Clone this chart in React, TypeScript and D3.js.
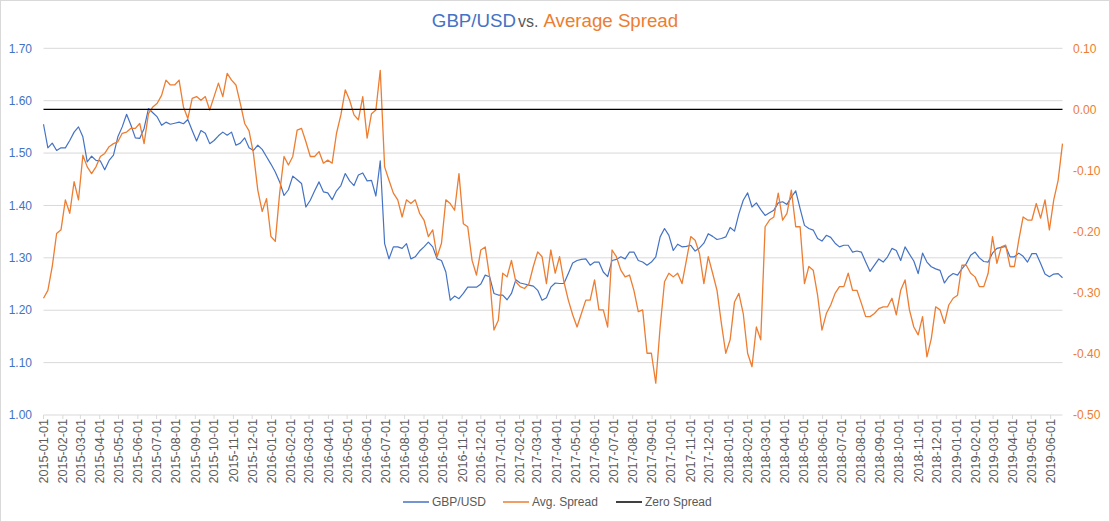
import React from "react";
import * as d3 from "d3";

// ---- data (weekly samples) ----
const startDate = "2015-01-01";
const stepDays = 7;

const gbpUsd = [
  1.555, 1.510, 1.519, 1.505, 1.510, 1.510, 1.524, 1.540, 1.550, 1.531, 1.483, 1.494, 1.486, 1.485, 1.468, 1.486, 1.496, 1.531, 1.550, 1.574, 1.553, 1.529, 1.528, 1.547, 1.585, 1.577, 1.569, 1.553, 1.559, 1.555, 1.557, 1.559, 1.556, 1.564, 1.543, 1.523, 1.543, 1.538, 1.518, 1.524, 1.533, 1.540, 1.534, 1.540, 1.515, 1.519, 1.529,
  1.510, 1.505, 1.515, 1.507, 1.493, 1.479, 1.464, 1.445, 1.419, 1.430, 1.456, 1.449, 1.442, 1.397, 1.410, 1.428, 1.445, 1.426, 1.424, 1.411, 1.428, 1.438, 1.461, 1.447, 1.438, 1.458, 1.462, 1.447, 1.448, 1.418, 1.485, 1.327, 1.298, 1.321, 1.321, 1.318, 1.327, 1.298, 1.302, 1.313, 1.321, 1.330, 1.321, 1.298, 1.295, 1.273, 1.219,
  1.227, 1.222, 1.232, 1.244, 1.244, 1.244, 1.250, 1.267, 1.264, 1.232, 1.229, 1.229, 1.220, 1.232, 1.258, 1.252, 1.250, 1.248, 1.246, 1.238, 1.219, 1.224, 1.244, 1.252, 1.251, 1.251, 1.270, 1.290, 1.295, 1.297, 1.298, 1.286, 1.292, 1.292, 1.273, 1.264, 1.295, 1.297, 1.302, 1.298, 1.311, 1.311, 1.295, 1.292, 1.286, 1.292, 1.302,
  1.340, 1.356, 1.343, 1.314, 1.326, 1.321, 1.322, 1.324, 1.313, 1.319, 1.328, 1.346, 1.341, 1.335, 1.337, 1.340, 1.358, 1.351, 1.384, 1.410, 1.424, 1.397, 1.405, 1.392, 1.381, 1.386, 1.391, 1.405, 1.407, 1.402, 1.416, 1.428, 1.394, 1.362, 1.356, 1.353, 1.337, 1.332, 1.343, 1.339, 1.328, 1.321, 1.324, 1.324, 1.311, 1.313, 1.311,
  1.292, 1.274, 1.286, 1.298, 1.292, 1.302, 1.318, 1.314, 1.295, 1.321, 1.307, 1.294, 1.270, 1.309, 1.292, 1.283, 1.279, 1.276, 1.252, 1.264, 1.270, 1.267, 1.279, 1.289, 1.305, 1.311, 1.300, 1.293, 1.292, 1.309, 1.318, 1.320, 1.322, 1.302, 1.302, 1.309, 1.303, 1.292, 1.308, 1.308, 1.289, 1.269, 1.264, 1.269, 1.270, 1.262,
];

const avgSpread = [
  -0.309, -0.296, -0.257, -0.203, -0.197, -0.148, -0.170, -0.118, -0.148, -0.075, -0.094, -0.105, -0.094, -0.077, -0.072, -0.061, -0.056, -0.053, -0.039, -0.037, -0.031, -0.031, -0.023, -0.056, -0.007, 0.004, 0.010, 0.023, 0.048, 0.040, 0.040, 0.048, 0.004, -0.015, 0.018, 0.021, 0.015, 0.021, -0.001, 0.021, 0.043, 0.021, 0.059, 0.048, 0.040, 0.010, -0.023,
  -0.035, -0.072, -0.132, -0.167, -0.146, -0.208, -0.216, -0.137, -0.077, -0.091, -0.077, -0.034, -0.031, -0.053, -0.077, -0.077, -0.069, -0.088, -0.083, -0.088, -0.039, -0.009, 0.032, 0.015, -0.009, -0.017, 0.021, -0.047, -0.007, -0.001, 0.064, -0.094, -0.116, -0.137, -0.148, -0.176, -0.148, -0.154, -0.148, -0.170, -0.181, -0.208, -0.197, -0.241, -0.219, -0.148, -0.154,
  -0.165, -0.105, -0.187, -0.192, -0.247, -0.271, -0.230, -0.225, -0.274, -0.361, -0.345, -0.268, -0.274, -0.247, -0.282, -0.290, -0.293, -0.285, -0.257, -0.233, -0.241, -0.285, -0.230, -0.268, -0.241, -0.282, -0.312, -0.336, -0.356, -0.334, -0.312, -0.312, -0.279, -0.328, -0.328, -0.356, -0.230, -0.241, -0.263, -0.274, -0.271, -0.296, -0.331, -0.328, -0.399, -0.399, -0.448,
  -0.356, -0.282, -0.268, -0.274, -0.268, -0.285, -0.247, -0.208, -0.214, -0.236, -0.285, -0.241, -0.268, -0.296, -0.350, -0.399, -0.377, -0.315, -0.301, -0.334, -0.399, -0.421, -0.356, -0.377, -0.192, -0.181, -0.176, -0.137, -0.181, -0.170, -0.132, -0.192, -0.192, -0.285, -0.257, -0.263, -0.304, -0.361, -0.334, -0.320, -0.301, -0.290, -0.290, -0.268, -0.296, -0.296, -0.317,
  -0.339, -0.339, -0.334, -0.326, -0.323, -0.323, -0.309, -0.336, -0.296, -0.279, -0.328, -0.356, -0.369, -0.339, -0.405, -0.375, -0.323, -0.328, -0.350, -0.320, -0.309, -0.304, -0.255, -0.255, -0.268, -0.274, -0.290, -0.290, -0.268, -0.208, -0.252, -0.225, -0.222, -0.257, -0.257, -0.214, -0.176, -0.181, -0.181, -0.154, -0.178, -0.148, -0.197, -0.148, -0.116, -0.056,
];

const zeroSpread = 0;
const leftTicks = [1.0, 1.1, 1.2, 1.3, 1.4, 1.5, 1.6, 1.7];
const rightTicks = [-0.5, -0.4, -0.3, -0.2, -0.1, 0.0, 0.1];
const firstMonth = "2015-01-01";
const lastMonth = "2019-06-01";
const seriesNames = ["GBP/USD", "Avg. Spread", "Zero Spread"];

const W = 1110;
const H = 522;
const BLUE = "#4472C4";
const ORANGE = "#ED7D31";
const GREY = "#595959";
const GRID = "#D9D9D9";
const FONT = "'Liberation Sans', Arial, sans-serif";

export default function App() {
  const parse = d3.timeParse("%Y-%m-%d");
  const start = parse(startDate) as Date;
  const dates = gbpUsd.map((_, i) => d3.timeDay.offset(start, i * stepDays));
  const last = dates[dates.length - 1];

  const left = 43.5;
  const right = 1062.5;
  const top = 48.3;
  const bottom = 415;

  const x = d3.scaleTime().domain([start, last]).range([left, right]);
  const yL = d3.scaleLinear().domain([1.0, 1.7]).range([bottom, top]);
  const yR = d3.scaleLinear().domain([-0.5, 0.1]).range([bottom, top]);

  const lineL = d3
    .line<number>()
    .x((_, i) => x(dates[i]))
    .y((d) => yL(d));
  const lineR = d3
    .line<number>()
    .x((_, i) => x(dates[i]))
    .y((d) => yR(d));

  const months = d3.timeMonth.range(
    parse(firstMonth) as Date,
    d3.timeDay.offset(parse(lastMonth) as Date, 1)
  );
  const fmt = d3.timeFormat("%Y-%m-%d");

  const legendItems = [
    { name: seriesNames[0], color: BLUE, x0: 403 },
    { name: seriesNames[1], color: ORANGE, x0: 503 },
    { name: seriesNames[2], color: "#000", x0: 616 },
  ];

  return (
    <svg
      width={W}
      height={H}
      style={{ position: "absolute", left: 0, top: 0, background: "#fff" }}
      fontFamily={FONT}
    >
      <rect x={0.5} y={0.5} width={W - 1} height={H - 1} fill="#fff" stroke={GRID} />
      <text x={555} y={27} textAnchor="middle" fontSize={18.7}>
        <tspan fill={BLUE}>GBP/USD</tspan>
        <tspan fill={GREY} fontSize={16} dx={2}>vs.</tspan>
        <tspan fill={ORANGE} dx={5}>Average Spread</tspan>
      </text>

      {leftTicks.map((t) => (
        <g key={"g" + t}>
          <line x1={left} x2={right} y1={yL(t)} y2={yL(t)} stroke={GRID} strokeWidth={1} />
          <text x={32} y={yL(t)} dy="0.35em" textAnchor="end" fontSize={12} fill={BLUE}>
            {t.toFixed(2)}
          </text>
        </g>
      ))}
      {rightTicks.map((t) => (
        <text key={"r" + t} x={1073} y={yR(t)} dy="0.35em" textAnchor="start" fontSize={12} fill={ORANGE}>
          {t.toFixed(2)}
        </text>
      ))}

      {months.map((m) => (
        <g key={m.toISOString()}>
          <line x1={x(m)} x2={x(m)} y1={bottom} y2={bottom + 4} stroke={GRID} />
          <text
            transform={`translate(${x(m)},${bottom + 4}) rotate(-90)`}
            dy="0.35em"
            textAnchor="end"
            fontSize={12.6}
            fill={GREY}
          >
            {fmt(m)}
          </text>
        </g>
      ))}

      <path d={lineL(gbpUsd) || ""} fill="none" stroke={BLUE} strokeWidth={1.2} strokeLinejoin="round" />
      <path d={lineR(avgSpread) || ""} fill="none" stroke={ORANGE} strokeWidth={1.3} strokeLinejoin="round" />
      <line x1={left} x2={right} y1={yR(zeroSpread)} y2={yR(zeroSpread)} stroke="#000" strokeWidth={1.3} />

      {legendItems.map((it) => (
        <g key={it.name}>
          <line x1={it.x0} x2={it.x0 + 26} y1={502} y2={502} stroke={it.color} strokeWidth={1.5} />
          <text x={it.x0 + 29} y={502} dy="0.35em" fontSize={12} fill={GREY}>
            {it.name}
          </text>
        </g>
      ))}
    </svg>
  );
}
